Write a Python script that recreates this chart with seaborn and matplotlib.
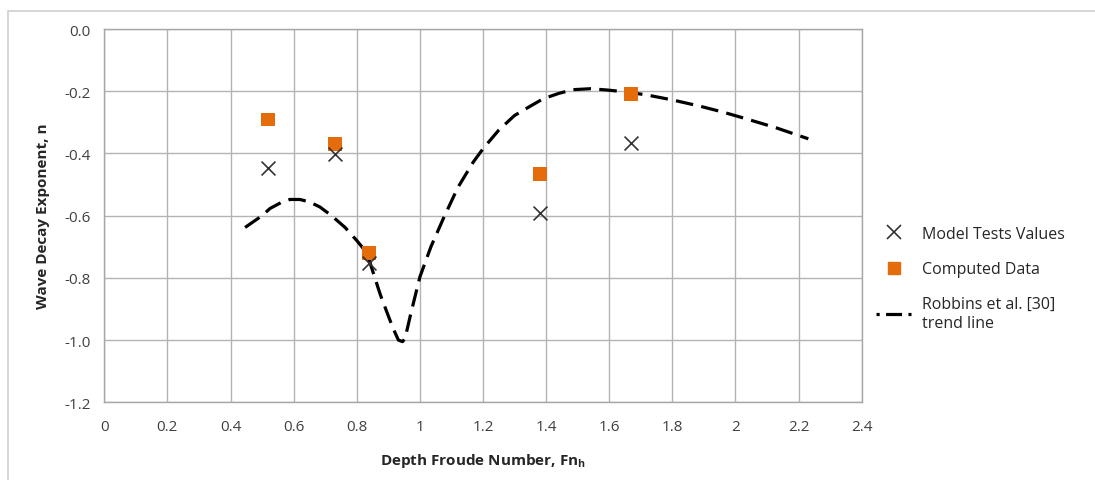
import matplotlib
matplotlib.use("Agg")
import matplotlib.pyplot as plt
import seaborn as sns
import pandas as pd
from matplotlib.lines import Line2D
from matplotlib.patches import Rectangle

# Data
fn_points = [0.52, 0.73, 0.84, 1.38, 1.67]
model_tests = [-0.446, -0.403, -0.752, -0.590, -0.366]
computed = [-0.291, -0.369, -0.719, -0.465, -0.208]

trend_x = [0.446, 0.50, 0.525, 0.56, 0.588, 0.62, 0.65, 0.683, 0.72, 0.763, 0.80, 0.821,
           0.84, 0.858, 0.875, 0.895, 0.915, 0.932, 0.945, 0.953, 0.97, 1.0, 1.035, 1.074,
           1.12, 1.169, 1.2, 1.25, 1.30, 1.35, 1.39, 1.44, 1.486, 1.54, 1.592, 1.65, 1.719,
           1.80, 1.887, 1.96, 2.035, 2.13, 2.231]
trend_y = [-0.638, -0.600, -0.577, -0.558, -0.548, -0.548, -0.556, -0.572, -0.600, -0.638,
           -0.680, -0.706, -0.745, -0.802, -0.855, -0.909, -0.962, -1.000, -1.005, -0.995,
           -0.92, -0.797, -0.700, -0.610, -0.51, -0.428, -0.385, -0.325, -0.278, -0.248,
           -0.2246, -0.207, -0.195, -0.192, -0.196, -0.202, -0.212, -0.228, -0.248, -0.267,
           -0.289, -0.318, -0.353]

x_ticks = [0, 0.2, 0.4, 0.6, 0.8, 1.0, 1.2, 1.4, 1.6, 1.8, 2.0, 2.2, 2.4]
x_tick_labels = ["0", "0.2", "0.4", "0.6", "0.8", "1", "1.2", "1.4", "1.6", "1.8", "2", "2.2", "2.4"]
y_ticks = [0.0, -0.2, -0.4, -0.6, -0.8, -1.0, -1.2]
y_tick_labels = ["0.0", "-0.2", "-0.4", "-0.6", "-0.8", "-1.0", "-1.2"]

sns.set_style("white")
plt.rcParams['font.family'] = ['Open Sans', 'DejaVu Sans']

fig = plt.figure(figsize=(10.95, 4.81), dpi=100)
ax = fig.add_axes([104.3 / 1095, 77.7 / 481, (861.7 - 104.3) / 1095, (403.3 - 30) / 481])

# outer chart border
fig.patches.append(Rectangle((8 / 1095, -0.05), 1.2, (481 - 12) / 481 + 0.05,
                             transform=fig.transFigure, fill=False,
                             edgecolor="#d0d0d0", linewidth=1.2, zorder=-10))

df_pts = pd.DataFrame({"fn": fn_points, "model": model_tests, "computed": computed})
df_trend = pd.DataFrame({"fn": trend_x, "n": trend_y})

sns.lineplot(data=df_trend, x="fn", y="n", ax=ax, color="black", linewidth=2.3,
             dashes=False, sort=False, zorder=3)
ax.lines[-1].set_dashes((5.5, 2.6))
sns.scatterplot(data=df_pts, x="fn", y="computed", ax=ax, marker="s", s=100,
                color="#E46C0A", edgecolor="none", zorder=4)
sns.scatterplot(data=df_pts, x="fn", y="model", ax=ax, marker="x", s=100,
                color="#333333", linewidth=1.2, zorder=5)

ax.set_xlim(0, 2.4)
ax.set_ylim(-1.2, 0.0)
ax.set_xticks(x_ticks)
ax.set_xticklabels(x_tick_labels)
ax.set_yticks(y_ticks)
ax.set_yticklabels(y_tick_labels)
ax.grid(True, color="#b3b3b3", linewidth=1.0)
ax.set_axisbelow(True)
for sp in ax.spines.values():
    sp.set_color("#a6a6a6")
    sp.set_linewidth(1.0)
ax.tick_params(axis="both", length=0, labelsize=11, colors="#404040", pad=10)
ax.tick_params(axis="x", pad=12)

ax.set_xlabel("Depth Froude Number, Fn$_\\mathregular{h}$", fontsize=11, fontweight="bold",
              color="#262626", labelpad=12)
ax.set_ylabel("Wave Decay Exponent, n", fontsize=11, fontweight="bold", color="#262626",
              labelpad=10)

handles = [
    Line2D([], [], marker="x", color="#333333", linestyle="none", markersize=10,
           markeredgewidth=1.2),
    Line2D([], [], marker="s", color="#E46C0A", linestyle="none", markersize=8),
    Line2D([], [], color="black", linewidth=2.3, dashes=(1, 2, 5, 2, 5, 2)),
]
labels = ["Model Tests Values", "Computed Data", "Robbins et al. [30]\ntrend line"]
fig.legend(handles, labels, loc="upper left", bbox_to_anchor=(0.787, 0.558),
           frameon=False, fontsize=11.5, labelcolor="#262626", handlelength=2.2,
           handletextpad=0.7, labelspacing=1.2)

fig.savefig("out.png", dpi=100)
